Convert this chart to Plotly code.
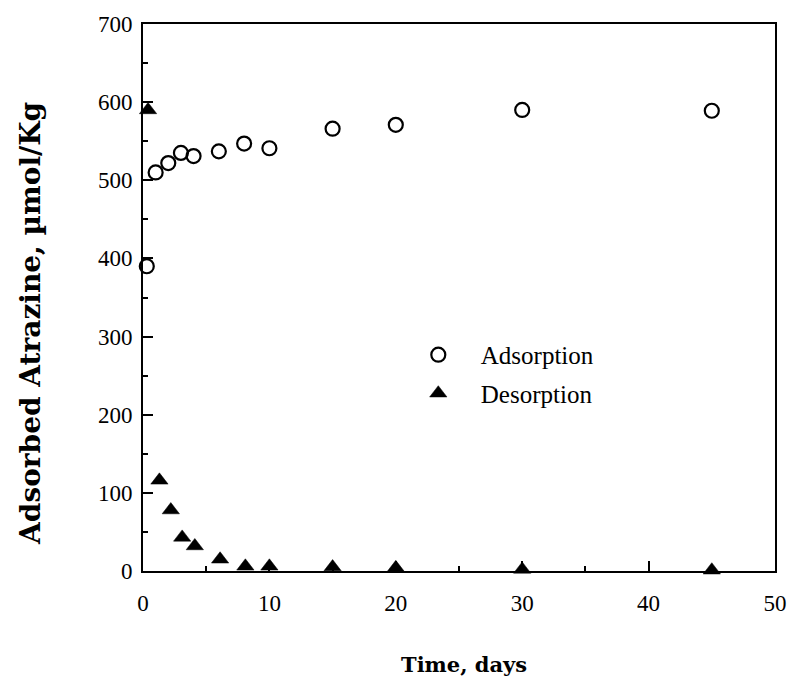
import plotly.graph_objects as go

ads_time = [0.3, 1, 2, 3, 4, 6, 8, 10, 15, 20, 30, 45]
ads_val = [390, 510, 522, 535, 531, 537, 547, 541, 566, 571, 590, 589]

des_time = [0.4, 1.3, 2.2, 3.1, 4.1, 6.1, 8.1, 10, 15, 20, 30, 45]
des_val = [590, 116, 78, 43, 32, 15, 6, 6, 5, 4, 2, 1]

x_ticks = [0, 10, 20, 30, 40, 50]
y_ticks = [0, 100, 200, 300, 400, 500, 600, 700]

FONT = "Liberation Serif"
TFONT = "DejaVu Serif"

fig = go.Figure()
fig.add_trace(go.Scatter(
    x=ads_time, y=ads_val, mode="markers", name="Adsorption", legendgroup="a",
    cliponaxis=False,
    marker=dict(symbol="circle-open", size=14, color="black", line=dict(width=2.2, color="black")),
))
fig.add_trace(go.Scatter(
    x=des_time, y=des_val, mode="markers", name="Desorption", legendgroup="d",
    cliponaxis=False,
    marker=dict(symbol="triangle-up", size=15, color="black", line=dict(width=0.5, color="black")),
))

fig.update_layout(
    width=799, height=686,
    margin=dict(l=143, r=18, t=20, b=115),
    paper_bgcolor="white", plot_bgcolor="white",
    font=dict(family=FONT, size=23, color="black"),
    showlegend=True,
    legend=dict(
        x=0.40, y=0.437, xanchor="left", yanchor="top",
        bgcolor="rgba(0,0,0,0)", borderwidth=0,
        font=dict(family=FONT, size=25, color="black"),
        itemsizing="trace", tracegroupgap=3, itemwidth=75,
    ),
    xaxis=dict(
        range=[0, 50], tickvals=x_ticks, ticktext=[str(v) for v in x_ticks],
        showgrid=False, zeroline=False,
        showline=True, linecolor="black", linewidth=2, mirror=True,
        ticks="inside", ticklen=10, tickwidth=2, tickcolor="black",
        minor=dict(dtick=5, ticks="inside", ticklen=5, tickwidth=2, tickcolor="black"),
        tickfont=dict(family=FONT, size=23), ticklabelstandoff=10,
    ),
    yaxis=dict(
        range=[0, 700], tickvals=y_ticks, ticktext=[str(v) for v in y_ticks],
        showgrid=False, zeroline=False,
        showline=True, linecolor="black", linewidth=2, mirror=True,
        ticks="inside", ticklen=10, tickwidth=2, tickcolor="black",
        minor=dict(dtick=50, ticks="inside", ticklen=5, tickwidth=2, tickcolor="black"),
        tickfont=dict(family=FONT, size=23), ticklabelstandoff=4,
    ),
    annotations=[
        dict(
            text="<b>Adsorbed Atrazine, µmol/Kg</b>", textangle=-90,
            xref="paper", yref="paper", x=-0.177, y=0.452,
            xanchor="center", yanchor="middle", showarrow=False,
            font=dict(family=TFONT, size=28, color="black"),
        ),
        dict(
            text="<b>Time, days</b>",
            xref="paper", yref="paper", x=0.508, y=-0.171,
            xanchor="center", yanchor="middle", showarrow=False,
            font=dict(family=TFONT, size=21, color="black"),
        ),
    ],
)

fig.write_html("out.html")
